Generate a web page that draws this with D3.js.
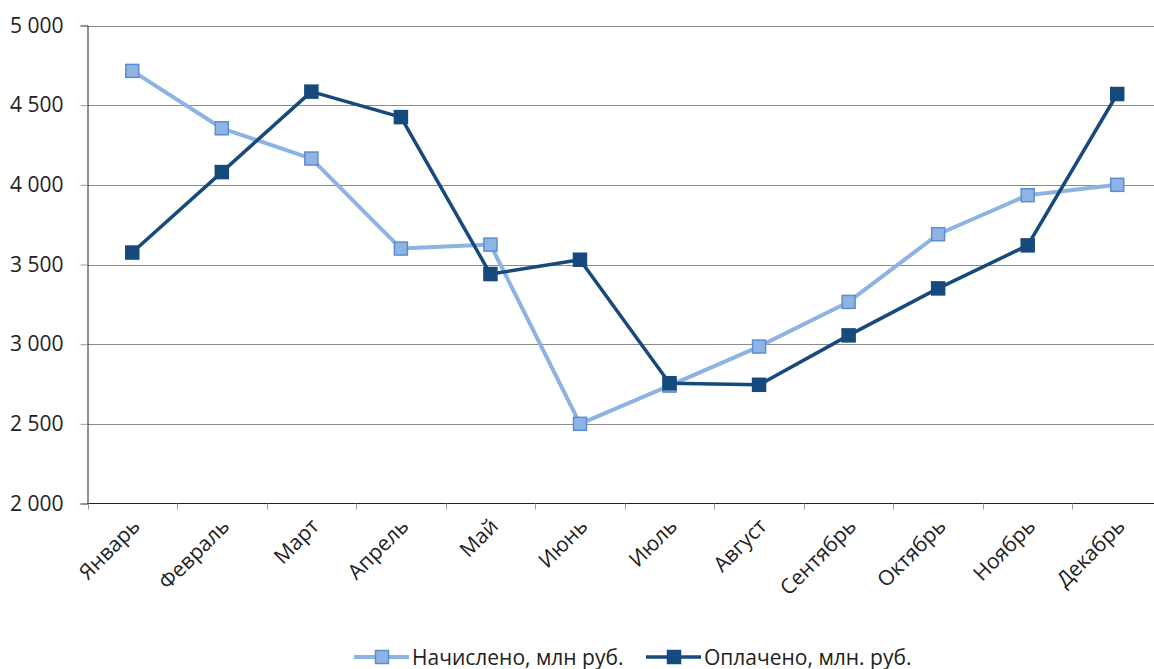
<!DOCTYPE html>
<html>
<head>
<meta charset="utf-8">
<script src="https://cdn.jsdelivr.net/npm/d3@7"></script>
<style>
	body { margin: 0; background: #fff; }
	svg { display: block; font-family: "Open Sans", sans-serif; }
</style>
</head>
<body>
<div id="chart"></div>
<script>
const months = ["Январь", "Февраль", "Март", "Апрель", "Май", "Июнь", "Июль", "Август", "Сентябрь", "Октябрь", "Ноябрь", "Декабрь"];
const accrued = [4715, 4355, 4165, 3600, 3625, 2500, 2740, 2985, 3265, 3690, 3935, 4000];
const paid = [3575, 4080, 4585, 4425, 3440, 3530, 2755, 2745, 3055, 3350, 3620, 4570];
const yTicks = [2000, 2500, 3000, 3500, 4000, 4500, 5000];
const seriesNames = ["Начислено, млн руб.", "Оплачено, млн. руб."];

const width = 1154, height = 669;
const margin = { top: 25.5, right: -8, bottom: 165.5, left: 87.5 };
const fontSize = "21px";

const svg = d3.select("#chart").append("svg")
	.attr("width", width)
	.attr("height", height);

const x = d3.scaleBand()
	.domain(months)
	.range([margin.left, width - margin.right]);

const y = d3.scaleLinear()
	.domain([2000, 5000])
	.range([height - margin.bottom, margin.top]);

const fmt = (v) => d3.format(",")(v).replace(",", " ");

/* horizontal gridlines */
svg.append("g")
	.selectAll("line")
	.data(yTicks.filter((d) => d > 2000))
	.enter()
	.append("line")
		.attr("x1", margin.left)
		.attr("x2", width)
		.attr("y1", (d) => Math.round(y(d)) + 0.5)
		.attr("y2", (d) => Math.round(y(d)) + 0.5)
		.attr("stroke", "#8a8a8a")
		.attr("stroke-width", 1);

/* y axis */
const yAxis = svg.append("g")
	.attr("transform", `translate(${margin.left},0)`)
	.call(d3.axisLeft(y).tickValues(yTicks).tickFormat(fmt).tickSize(7).tickPadding(17));
yAxis.select(".domain").attr("stroke", "#222");
yAxis.selectAll(".tick line").attr("stroke", "#9a9a9a");
yAxis.selectAll("text")
	.attr("font-size", fontSize)
	.attr("fill", "#222")
	.attr("font-family", "'Open Sans', sans-serif");

/* x axis: ticks between categories */
const xAxisY = y(2000);
svg.append("line")
	.attr("x1", margin.left)
	.attr("x2", width)
	.attr("y1", xAxisY)
	.attr("y2", xAxisY)
	.attr("stroke", "#222");

svg.append("g")
	.selectAll("line")
	.data(months)
	.enter()
	.append("line")
		.attr("x1", (d) => Math.round(x(d)) + 0.5)
		.attr("x2", (d) => Math.round(x(d)) + 0.5)
		.attr("y1", xAxisY)
		.attr("y2", xAxisY + 6)
		.attr("stroke", "#9a9a9a");

svg.append("g")
	.selectAll("text")
	.data(months)
	.enter()
	.append("text")
		.attr("transform", (d) => `translate(${x(d) + x.bandwidth() / 2 + 9},${xAxisY + 24}) rotate(-45)`)
		.attr("text-anchor", "end")
		.attr("font-size", fontSize)
		.attr("fill", "#222")
		.text((d) => d);

/* series */
const series = [
	{ name: seriesNames[0], values: accrued, line: "#8db3e2", fill: "#8eb4e3", stroke: "#5b8ed0", width: 4 },
	{ name: seriesNames[1], values: paid, line: "#174a7c", fill: "#174a7c", stroke: "#174a7c", width: 3.5 }
];

const cx = (i) => x(months[i]) + x.bandwidth() / 2;

const line = d3.line()
	.x((d, i) => cx(i))
	.y((d) => y(d));

const markerSize = 13;

series.forEach((s) => {
	svg.append("path")
		.datum(s.values)
		.attr("d", line)
		.attr("fill", "none")
		.attr("stroke", s.line)
		.attr("stroke-width", s.width)
		.attr("stroke-linejoin", "round");

	svg.append("g")
		.selectAll("rect")
		.data(s.values)
		.enter()
		.append("rect")
			.attr("x", (d, i) => cx(i) - markerSize / 2)
			.attr("y", (d) => y(d) - markerSize / 2)
			.attr("width", markerSize)
			.attr("height", markerSize)
			.attr("fill", s.fill)
			.attr("stroke", s.stroke)
			.attr("stroke-width", 1.5);
});

/* legend */
const legendY = 657;
const legendX = [354, 646];
const legend = svg.append("g")
	.selectAll("g")
	.data(series)
	.enter()
	.append("g")
		.attr("transform", (d, i) => `translate(${legendX[i]},${legendY})`);

legend.append("line")
	.attr("x1", 0)
	.attr("x2", 55)
	.attr("stroke", (d) => d.line)
	.attr("stroke-width", (d) => d.width);

legend.append("rect")
	.attr("x", 28 - markerSize / 2)
	.attr("y", -markerSize / 2)
	.attr("width", markerSize)
	.attr("height", markerSize)
	.attr("fill", (d) => d.fill)
	.attr("stroke", (d) => d.stroke)
	.attr("stroke-width", 1.5);

legend.append("text")
	.attr("x", 58)
	.attr("y", 7.5)
	.attr("font-size", fontSize)
	.attr("fill", "#222")
	.text((d) => d.name);
</script>
</body>
</html>
